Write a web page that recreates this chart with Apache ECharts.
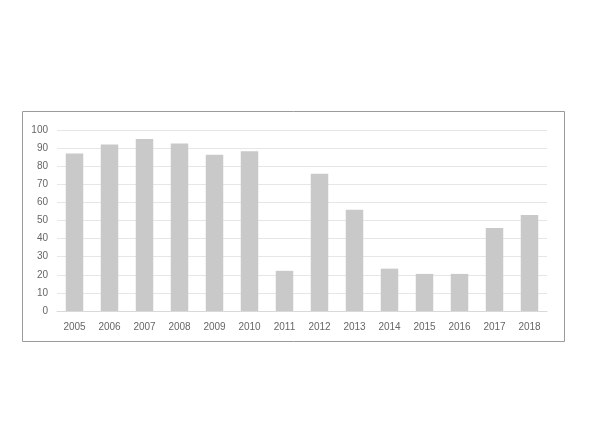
<!DOCTYPE html>
<html>
<head>
    <meta charset="UTF-8">
    <title>Bar chart 2005-2018</title>
    <script src="https://cdn.jsdelivr.net/npm/echarts@6/dist/echarts.min.js"></script>
    <style>
        html, body { margin: 0; padding: 0; background: #fff; }
        #chart { width: 594px; height: 425px; }
    </style>
</head>
<body>
    <div id="chart"></div>
    <script>
        // data
        var years = ['2005', '2006', '2007', '2008', '2009', '2010', '2011',
                     '2012', '2013', '2014', '2015', '2016', '2017', '2018'];
        var values = [87, 92, 95, 92.5, 86.3, 88.2, 22.2, 75.8, 56, 23.4, 20.5, 20.5, 45.8, 53];
        var yMin = 0, yMax = 100, yStep = 10;

        var chart = echarts.init(document.getElementById('chart'), null, {renderer: 'canvas'});
        var font = '"Liberation Sans", "DejaVu Sans", sans-serif';

        chart.setOption({
            backgroundColor: '#fff',
            animation: false,
            // frame around the chart area
            graphic: [{
                type: 'rect',
                shape: {x: 22.5, y: 111.5, width: 542, height: 230},
                style: {fill: 'none', stroke: '#9a9a9a', lineWidth: 1},
                z: 0
            }],
            grid: {left: 57, right: 47, top: 130, bottom: 114, containLabel: false},
            xAxis: {
                type: 'category',
                data: years,
                axisLine: {show: true, lineStyle: {color: '#d9d9d9', width: 1}},
                axisTick: {show: false},
                axisLabel: {color: '#666', fontSize: 10, fontFamily: font, margin: 11}
            },
            yAxis: {
                type: 'value',
                min: yMin,
                max: yMax,
                interval: yStep,
                axisLine: {show: false},
                axisTick: {show: false},
                splitLine: {lineStyle: {color: '#e6e6e6', width: 1}},
                axisLabel: {color: '#666', fontSize: 10, fontFamily: font, margin: 9}
            },
            series: [{
                type: 'bar',
                data: values,
                barWidth: '50%',
                itemStyle: {color: '#c9c9c9'}
            }]
        });
    </script>
</body>
</html>
